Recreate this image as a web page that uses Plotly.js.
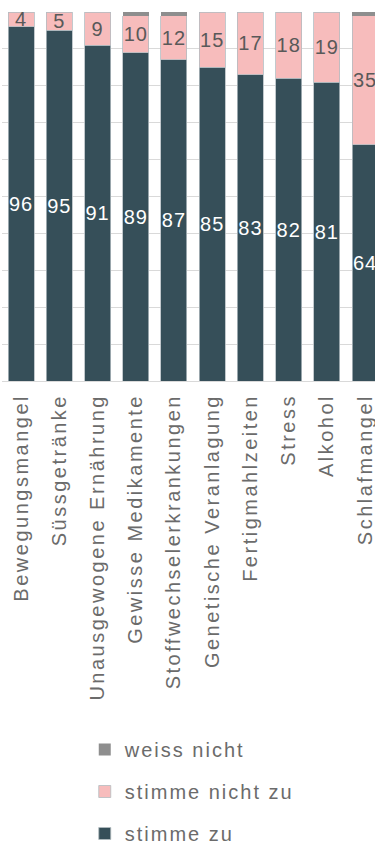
<!DOCTYPE html>
<html>
<head>
<meta charset="utf-8">
<script src="https://cdn.plot.ly/plotly-3.0.1.min.js"></script>
<style>
html,body{margin:0;padding:0;background:#fff;}
#chart{width:375px;height:845px;}
.xtick text { letter-spacing: 2.5px; }
.legendtext { letter-spacing: 2px; }
.bartext { letter-spacing: 1px; }
</style>
</head>
<body>
<div id="chart"></div>
<script>
const categories = ["Bewegungsmangel","Süssgetränke","Unausgewogene Ernährung","Gewisse Medikamente","Stoffwechselerkrankungen","Genetische Veranlagung","Fertigmahlzeiten","Stress","Alkohol","Schlafmangel"];
const stimmeZu = [96,95,91,89,87,85,83,82,81,64];
const stimmeNichtZu = [4,5,9,10,12,15,17,18,19,35];
const weissNicht = [0,0,0,1,1,0,0,0,0,1];
const seriesNames = ["stimme zu","stimme nicht zu","weiss nicht"];
const colors = ["#364F59","#F7BCBC","#8E8E8E"];

const lineStyle = {width:0.8,color:"#b3bcc0"};
const traces = [
  {type:"bar",name:seriesNames[0],x:categories,y:stimmeZu,text:stimmeZu.map(String),
   textposition:"inside",insidetextanchor:"middle",textangle:0,
   textfont:{family:"Liberation Sans, Arial, sans-serif",size:20,color:"#ffffff"},
   marker:{color:colors[0],line:lineStyle},legendgroup:"a",legendrank:3,hoverinfo:"x+y"},
  {type:"bar",name:seriesNames[1],x:categories,y:stimmeNichtZu,text:stimmeNichtZu.map(String),
   textposition:"inside",insidetextanchor:"middle",textangle:0,
   textfont:{family:"Liberation Sans, Arial, sans-serif",size:20,color:"#595959"},
   marker:{color:colors[1],line:lineStyle},legendgroup:"b",legendrank:2,hoverinfo:"x+y"},
  {type:"bar",name:seriesNames[2],x:categories,y:weissNicht,
   textposition:"none",
   marker:{color:colors[2],line:{width:0}},legendgroup:"c",legendrank:1,hoverinfo:"x+y"}
];

const layout = {
  width:375,height:845,
  barmode:"stack",bargap:0.32,
  margin:{l:2,r:0,t:12,b:464,autoexpand:false},
  paper_bgcolor:"#ffffff",plot_bgcolor:"#ffffff",
  font:{family:"Liberation Sans, Arial, sans-serif",size:20,color:"#6b6b6b"},
  uniformtext:{mode:"show",minsize:20},
  xaxis:{type:"category",range:[-0.5,9.26],tickangle:-90,ticks:"",ticklabelstandoff:4,
         showline:true,linecolor:"#d9d9d9",linewidth:1,
         tickfont:{size:20,color:"#6b6b6b"},fixedrange:true},
  yaxis:{range:[0,100],dtick:10,showticklabels:false,showgrid:true,
         gridcolor:"#d9d9d9",gridwidth:1,zeroline:false,fixedrange:true},
  showlegend:true,
  legend:{orientation:"v",traceorder:"grouped",tracegroupgap:13,
          xref:"container",yref:"container",
          x:0.226,xanchor:"left",y:1-730/845,yanchor:"top",
          font:{size:20,color:"#6b6b6b"},bgcolor:"rgba(0,0,0,0)"}
};
Plotly.newPlot("chart",traces,layout,{displayModeBar:false,staticPlot:true});
</script>
</body>
</html>
